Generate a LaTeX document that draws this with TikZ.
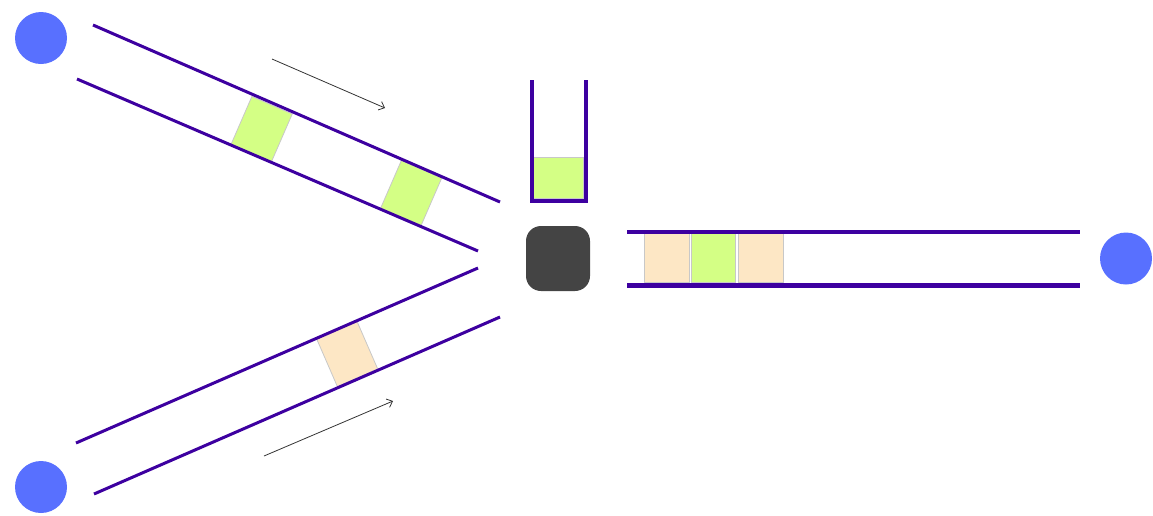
\documentclass[tikz,border=0pt]{standalone}
\usetikzlibrary{arrows.meta}
\definecolor{belt}{HTML}{3D00A0}
\definecolor{srcblue}{HTML}{5870FF}
\definecolor{itemgreen}{HTML}{D4FF85}
\definecolor{itembeige}{HTML}{FDE7C5}
\definecolor{hubgray}{HTML}{444444}
\definecolor{edgegray}{HTML}{C8C8C8}
\tikzset{
  beltline/.style={draw=belt,line width=3pt},
  src/.style={circle,fill=srcblue,draw=none,minimum size=52pt,inner sep=0pt},
  item/.style={rectangle,draw=edgegray,line width=0.8pt,inner sep=0pt},
  greenitem/.style={item,fill=itemgreen},
  beigeitem/.style={item,fill=itembeige},
  flow/.style={draw=black!80,line width=0.8pt,-{Straight Barb[length=5pt,width=9pt]}},
}
\begin{document}
\begin{tikzpicture}[x=1pt,y=-1pt]
\useasboundingbox (0,0) rectangle (1153,515);
% sources and sink
\node[src] (srcA) at (41,38) {};
\node[src] (srcB) at (41,487) {};
\node[src] (sink) at (1126,258.5) {};
% hub
\node[rectangle,rounded corners=15pt,fill=hubgray,minimum width=64pt,minimum height=65pt,inner sep=0pt] (hub) at (558,258.5) {};
% top conveyor
\coordinate (tA1) at (93,25);
\coordinate (tA2) at (500,202);
\coordinate (tB1) at (77,79);
\coordinate (tB2) at (478,251);
\node[greenitem,minimum width=44pt,minimum height=53pt,rotate=-23.5] (g1) at (261.5,129.5) {};
\node[greenitem,minimum width=44pt,minimum height=53pt,rotate=-23.5] (g2) at (411,193.5) {};
\draw[beltline] (tA1) -- (tA2);
\draw[beltline] (tB1) -- (tB2);
% bottom conveyor
\coordinate (bA1) at (76,443);
\coordinate (bA2) at (478,268);
\coordinate (bB1) at (94,494);
\coordinate (bB2) at (500,317);
\node[beigeitem,minimum width=44pt,minimum height=53pt,rotate=23.5] (b1) at (347,353.5) {};
\draw[beltline] (bA1) -- (bA2);
\draw[beltline] (bB1) -- (bB2);
% flow arrows
\coordinate (fa1) at (272,59);
\coordinate (fa2) at (385,108);
\coordinate (fb1) at (264,456);
\coordinate (fb2) at (393,401);
\draw[flow] (fa1) -- (fa2);
\draw[flow] (fb1) -- (fb2);
% cup
\node[rectangle,fill=itemgreen,draw=edgegray,line width=0.6pt,minimum width=50pt,minimum height=41pt,inner sep=0pt,anchor=south west] (cupitem) at (533,198.5) {};
\coordinate (cupL) at (532,80);
\coordinate (cupR) at (586,80);
\draw[draw=belt,line width=4.5pt] (cupL) -- (532,201) -- (586,201) -- (cupR);
% output conveyor
\node[beigeitem,minimum width=45pt,minimum height=49pt] (o1) at (666.5,258) {};
\node[greenitem,minimum width=44pt,minimum height=49pt] (o2) at (713,258) {};
\node[beigeitem,minimum width=45pt,minimum height=49pt] (o3) at (760.5,258) {};
\coordinate (oA1) at (627,231.5);
\coordinate (oA2) at (1080,231.5);
\coordinate (oB1) at (627,285.5);
\coordinate (oB2) at (1080,285.5);
\draw[draw=belt,line width=4pt] (oA1) -- (oA2);
\draw[draw=belt,line width=5.5pt] (oB1) -- (oB2);
\end{tikzpicture}
\end{document}
